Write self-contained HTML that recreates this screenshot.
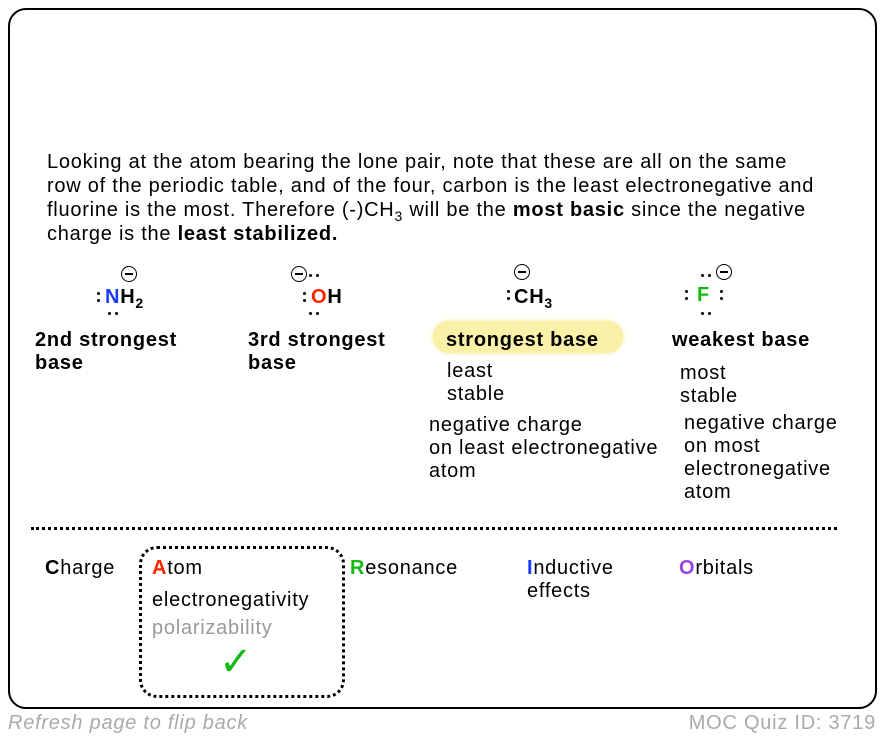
<html><head><style>
body{margin:0;width:884px;height:740px;background:#fff;font-family:"Liberation Sans",Arial,sans-serif;position:relative;overflow:hidden;letter-spacing:0.75px}
.a{position:absolute;white-space:nowrap}
sub{font-size:14px;line-height:0}
.card{position:absolute;left:8px;top:8px;width:865px;height:697px;border:2px solid #000;border-radius:18px}
.p{font-size:20px;line-height:24px;color:#000}
.b{font-weight:bold;font-size:20px;line-height:23px}
.t{font-size:20px;line-height:23px}
.m{font-weight:bold;font-size:20px}
.c{position:absolute;width:16px;height:16px;border:1.5px solid #000;border-radius:50%;box-sizing:border-box}
.c:after{content:"";position:absolute;left:3px;right:3px;top:6px;height:1.5px;background:#000}
.d{position:absolute;width:3px;height:3px;background:#000;border-radius:50%}
</style></head><body>
<div class="card"></div>
<div class="a p" style="left:47px;top:150px">Looking at the atom bearing the lone pair, note that these are all on the same<br>row of the periodic table, and of the four, carbon is the least electronegative and<br>fluorine is the most. Therefore (-)CH<sub>3</sub> will be the <b>most basic</b> since the negative<br>charge is the <b>least stabilized.</b></div>

<!-- NH2 -->
<div class="c" style="left:121px;top:266px"></div>
<div class="a m" style="left:105px;top:286px"><span style="color:#1a3cff">N</span>H<sub>2</sub></div>
<div class="d" style="left:97px;top:292px"></div><div class="d" style="left:97px;top:299px"></div>
<div class="d" style="left:108px;top:312px"></div><div class="d" style="left:115px;top:312px"></div>
<!-- OH -->
<div class="c" style="left:291px;top:266px"></div>
<div class="d" style="left:309px;top:274px"></div><div class="d" style="left:316px;top:274px"></div>
<div class="a m" style="left:311px;top:286px"><span style="color:#ff2200">O</span>H</div>
<div class="d" style="left:303px;top:292px"></div><div class="d" style="left:303px;top:299px"></div>
<div class="d" style="left:309px;top:312px"></div><div class="d" style="left:316px;top:312px"></div>
<!-- CH3 -->
<div class="c" style="left:514px;top:264px"></div>
<div class="a m" style="left:514px;top:286px">CH<sub>3</sub></div>
<div class="d" style="left:507px;top:290px"></div><div class="d" style="left:507px;top:297px"></div>
<!-- F -->
<div class="c" style="left:716px;top:264px"></div>
<div class="d" style="left:701px;top:274px"></div><div class="d" style="left:708px;top:274px"></div>
<div class="a m" style="left:697px;top:284px;color:#11bb11">F</div>
<div class="d" style="left:685px;top:290px"></div><div class="d" style="left:685px;top:297px"></div>
<div class="d" style="left:720px;top:290px"></div><div class="d" style="left:720px;top:297px"></div>
<div class="d" style="left:701px;top:312px"></div><div class="d" style="left:708px;top:312px"></div>

<div class="a b" style="left:35px;top:329px">2nd strongest<br>base</div>
<div class="a b" style="left:248px;top:329px">3rd strongest<br>base</div>
<div class="a" style="left:433px;top:321px;width:190px;height:32px;border-radius:16px;background:#fbf0a8;box-shadow:0 0 4px #f5e890"></div>
<div class="a b" style="left:446px;top:329px">strongest base</div>
<div class="a b" style="left:672px;top:329px">weakest base</div>

<div class="a t" style="left:447px;top:360px">least<br>stable</div>
<div class="a t" style="left:680px;top:362px">most<br>stable</div>
<div class="a t" style="left:429px;top:414px">negative charge<br>on least electronegative<br>atom</div>
<div class="a t" style="left:684px;top:412px">negative charge<br>on most<br>electronegative<br>atom</div>

<div class="a" style="left:31px;top:527px;width:806px;border-top:3px dotted #000"></div>

<div class="a" style="left:139px;top:546px;width:206px;height:152px;border:3px dotted #000;border-radius:18px;box-sizing:border-box"></div>
<div class="a t" style="left:45px;top:557px"><b>C</b>harge</div>
<div class="a t" style="left:152px;top:557px"><b style="color:#ff2200">A</b>tom</div>
<div class="a t" style="left:152px;top:589px">electronegativity</div>
<div class="a t" style="left:152px;top:617px;color:#999">polarizability</div>
<div class="a" style="left:219px;top:640px;font-size:40px;color:#11bb11;line-height:44px">✓</div>
<div class="a t" style="left:350px;top:557px"><b style="color:#11bb11">R</b>esonance</div>
<div class="a t" style="left:527px;top:557px"><b style="color:#1a3cff">I</b>nductive<br>effects</div>
<div class="a t" style="left:679px;top:557px"><b style="color:#9944dd">O</b>rbitals</div>

<div class="a" style="left:8px;top:712px;font-size:20px;font-style:italic;color:#aaa">Refresh page to flip back</div>
<div class="a" style="right:8px;top:712px;font-size:20px;color:#aaa">MOC Quiz ID: 3719</div>
</body></html>
